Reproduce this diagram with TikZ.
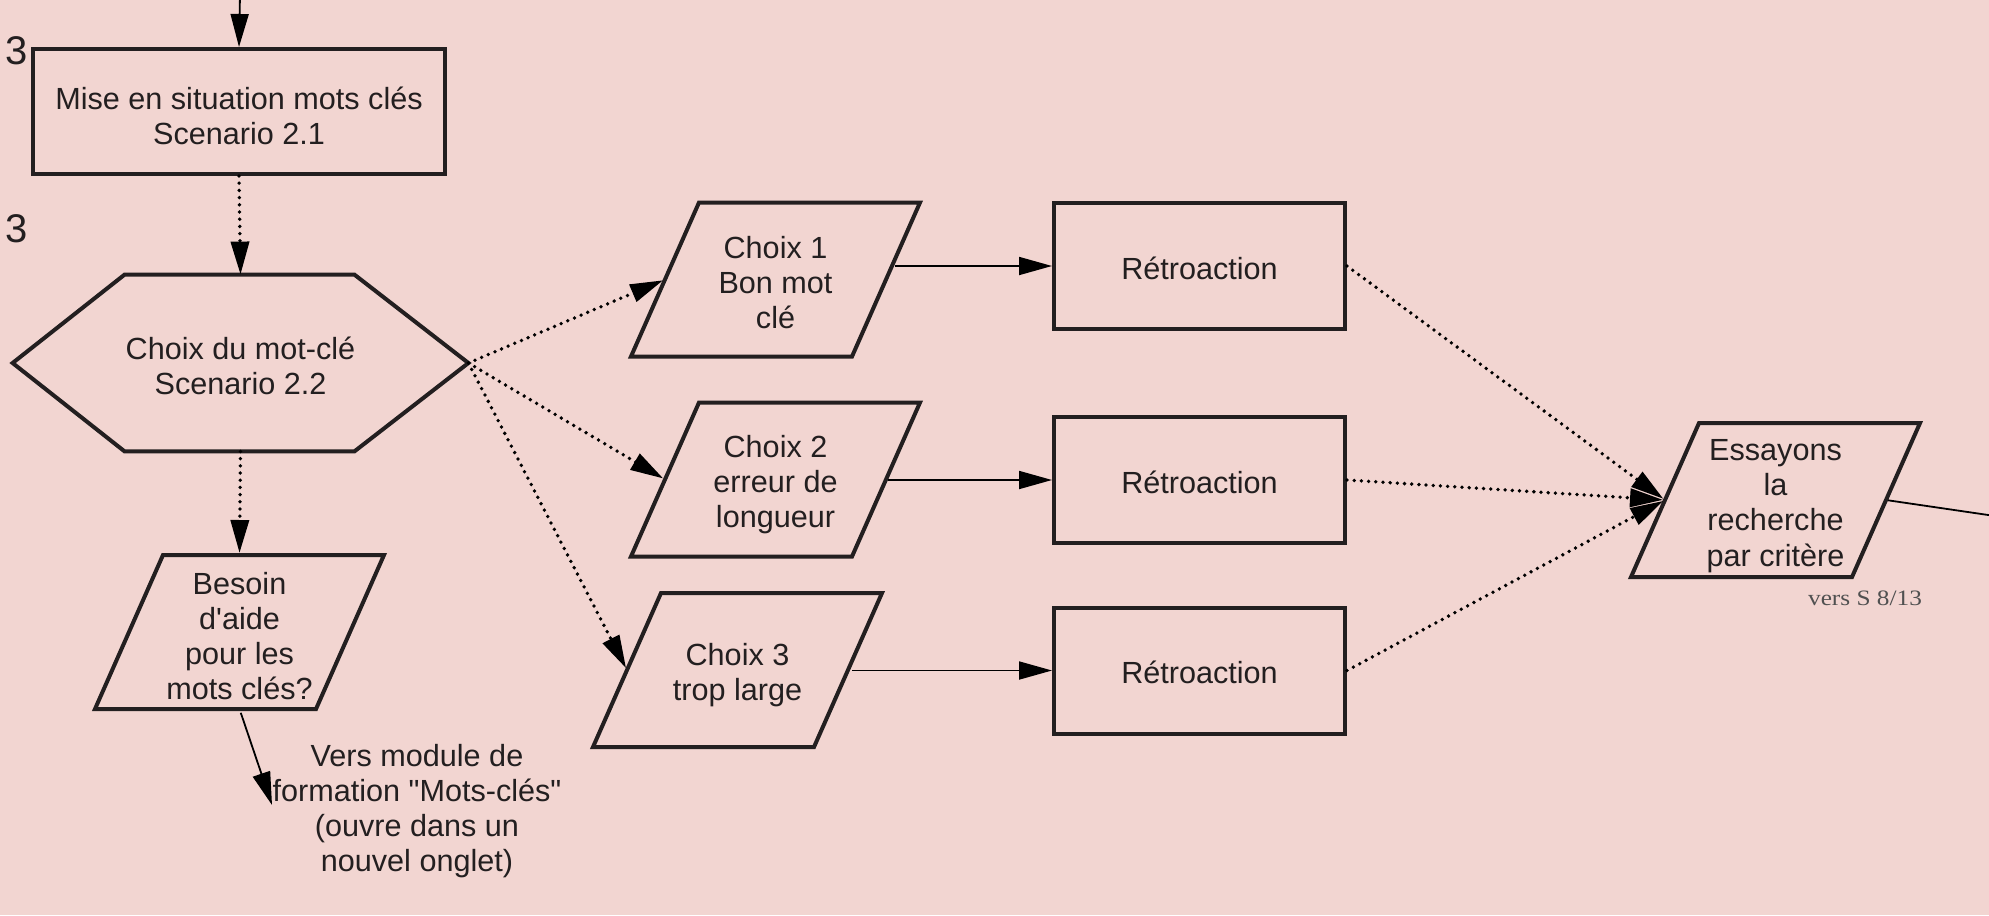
\documentclass[tikz,border=0pt]{standalone}
\usepackage{fontspec}
\setmainfont{Liberation Sans}[Ligatures=TeXOff]
\newfontfamily\serifvers{Liberation Serif}
\usetikzlibrary{arrows.meta,shapes.geometric,calc}
\definecolor{bgc}{RGB}{242,213,209}
\definecolor{ink}{RGB}{35,31,32}
\definecolor{grayt}{RGB}{80,80,80}
% parallelogram: name, position, text, text shift (px, downward)
\newcommand{\paral}[4]{%
  \node[paratext] (#1) at (#2) {};
  \draw[paraborder] (#1.south west) -- ($(#1.north west)+(68,0)$) -- (#1.north east)
     -- ($(#1.south east)+(-68,0)$) -- cycle;
  \node (#1-t) at ($(#1)+(0,#4)$) {#3};
  \coordinate (#1-w) at ($(#1.west)+(34,0)$);
  \coordinate (#1-e) at ($(#1.east)+(-34,0)$);
}
% rectangle box: name, position, text, text shift
\newcommand{\rbox}[5]{%
  \node[boxnode, #5] (#1) at (#2) {};
  \node (#1-t) at ($(#1)+(0,#4)$) {#3};
}
\begin{document}
\begin{tikzpicture}[x=0.5pt,y=-0.5pt,
  every node/.style={text=ink, font=\fontsize{15.3pt}{17.6pt}\selectfont, align=center},
  boxnode/.style={draw=ink, line width=2pt, rectangle, inner sep=0pt},
  paratext/.style={rectangle, inner sep=0pt, outer sep=0pt, minimum width=144.5pt, minimum height=77pt},
  paraborder/.style={draw=ink, line width=2pt, line join=miter},
  tipA/.style={-{Triangle[length=16.5pt,width=9pt]}},
  dotarrow/.style={tipA, draw=black, line width=1.9pt, line cap=round, dash pattern=on 0pt off 3.6pt},
  solidarrow/.style={tipA, draw=black, line width=0.9pt},
  bignum/.style={font=\fontsize{20pt}{24pt}\selectfont, inner sep=0pt}
]
\fill[bgc] (0,0) rectangle (1989,915);
\useasboundingbox (0,0) rectangle (1989,915);

% nodes
\rbox{sit}{239,111.5}{Mise en situation mots clés\\Scenario 2.1}{4}{minimum width=206pt, minimum height=62.5pt}
\node[inner sep=0pt, minimum width=227.5pt, minimum height=88pt] (hex) at (240.5,363) {};
\node (hex-t) at ($(hex)+(0,3)$) {Choix du mot-clé\\Scenario 2.2};
\draw[draw=ink, line width=2pt] (hex.west) -- ($(hex.north west)+(112,0)$) -- ($(hex.north east)+(-114,0)$) -- (hex.east) -- ($(hex.south east)+(-114,0)$) -- ($(hex.south west)+(112,0)$) -- cycle;
\paral{besoin}{239.5,632}{Besoin\\d'aide\\pour les\\mots clés?}{4}
\paral{c1}{775.5,279.5}{Choix 1\\Bon mot\\clé}{3}
\paral{c2}{775.5,479.5}{Choix 2\\erreur de\\longueur}{5}
\paral{c3}{737.5,670}{Choix 3\\trop large}{5}
\rbox{r1}{1199.5,266}{Rétroaction}{2}{minimum width=145.5pt, minimum height=63pt}
\rbox{r2}{1199.5,480}{Rétroaction}{2}{minimum width=145.5pt, minimum height=63pt}
\rbox{r3}{1199.5,670.5}{Rétroaction}{2}{minimum width=145.5pt, minimum height=63pt}
\paral{ess}{1775.5,500}{Essayons\\la\\recherche\\par critère}{6}
\node[text=grayt, font=\serifvers\fontsize{11pt}{13pt}\selectfont] (vers) at (1865,598) {\scalebox{1.15}[1]{vers S 8/13}};
\node (vm) at (417,811) {Vers module de\\formation "Mots-clés"\\(ouvre dans un\\nouvel onglet)};
\node[bignum] (n3a) at (17,51) {3};
\node[bignum] (n3b) at (17,229) {3};

\coordinate (topin) at (240,-5);
\coordinate (vmtip) at (272,805);
\coordinate (out) at (1995,516);

% connectors
\draw[solidarrow] (topin) -- (sit.north);
\draw[dotarrow] (sit.south) -- (hex.north);
\draw[dotarrow, shorten >=1pt] (hex.south) -- (besoin.north);
\draw[solidarrow, shorten <=2pt] (besoin.south) -- (vmtip);
\draw[dotarrow, shorten >=1pt] (hex.east) -- (c1-w);
\draw[dotarrow, shorten >=1pt] (hex.east) -- (c2-w);
\draw[dotarrow, shorten >=1pt] (hex.east) -- (c3-w);
\draw[solidarrow, shorten <=4.5pt] (c1-e |- r1.west) -- (r1.west);
\draw[solidarrow, shorten <=1.2pt] (c2-e |- r2.west) -- (r2.west);
\draw[solidarrow, shorten <=2pt] (c3-e |- r3.west) -- (r3.west);
\draw[dotarrow, shorten >=1pt] (r1.east) -- (ess-w);
\draw[dotarrow, shorten >=1pt] (r2.east) -- (ess-w);
\draw[dotarrow, shorten >=1pt] (r3.east) -- (ess-w);
\draw[draw=black, line width=0.9pt, shorten <=1pt] (ess-e) -- (out);
\end{tikzpicture}
\end{document}
